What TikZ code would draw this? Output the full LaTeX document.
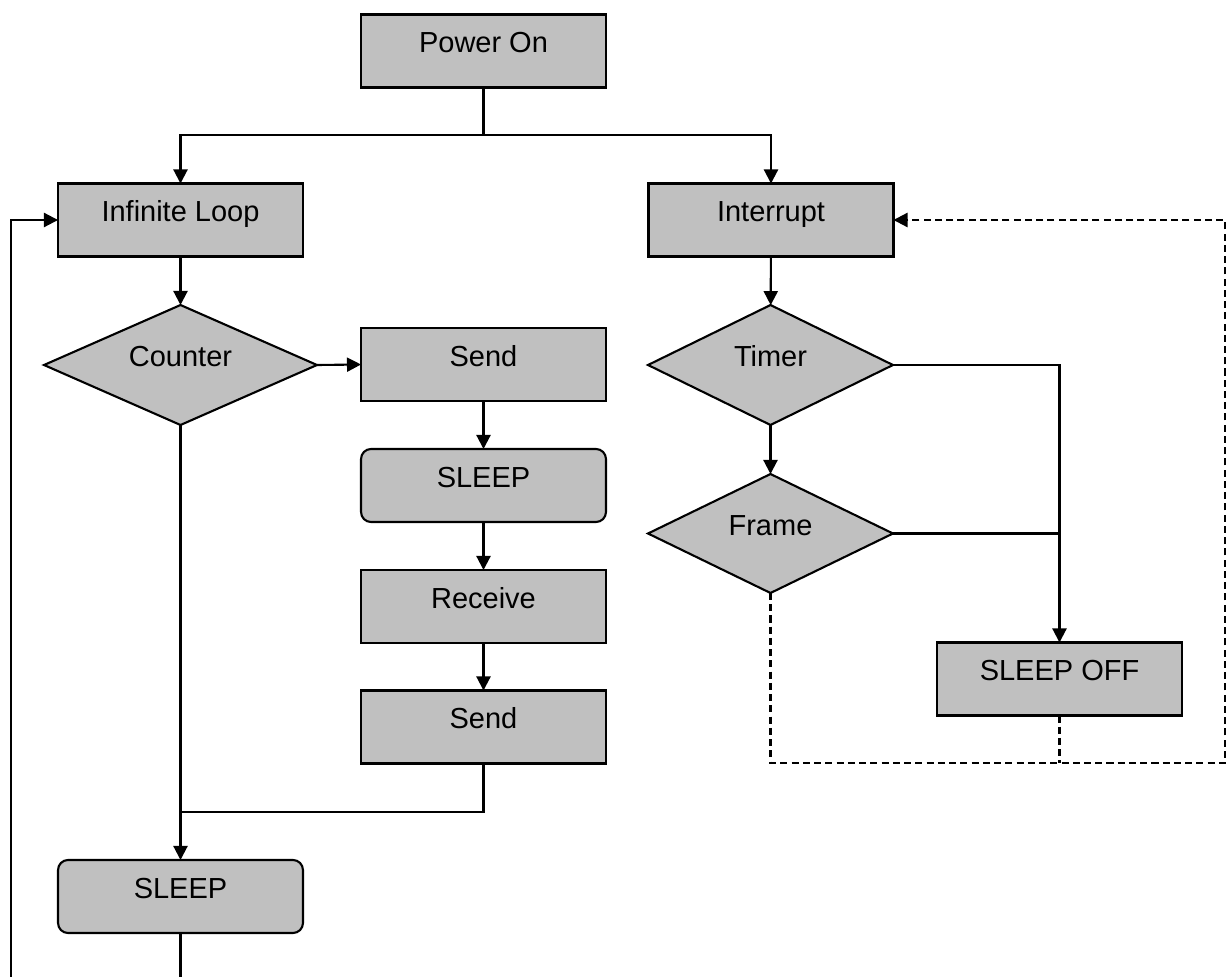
\documentclass[tikz,border=0pt]{standalone}
\usepackage{fontspec}
\setmainfont{Liberation Sans}
\usetikzlibrary{shapes.geometric,arrows.meta}
\definecolor{boxgray}{HTML}{C0C0C0}
\tikzset{
  lbl/.style={font=\fontsize{16.5}{19}\selectfont,text height=0.30cm,
    text depth=0.24cm,inner sep=0pt,outer sep=0pt},
  box/.style={lbl,draw=black,fill=boxgray,line width=1.2pt,minimum width=4.9cm,
    minimum height=1.46cm},
  rbox/.style={box,rounded corners=0.2cm},
  dec/.style={draw=black,fill=boxgray,line width=1.2pt,diamond,inner sep=0pt,
    outer sep=0pt,minimum height=2.4cm,label={[lbl]center:#1}},
  wire/.style={line width=1.2pt},
  arr/.style={wire,-{Triangle[length=8pt,width=8pt]}},
  dsh/.style={wire,dash pattern=on 4pt off 2.4pt}
}
\begin{document}
\begin{tikzpicture}[x=0.02cm,y=-0.02cm]
\clip (0,0) rectangle (1232,977);
\fill[white] (0,0) rectangle (1232,977);

% left column: main loop
\node[box]  (pwr)    at (483.5,51)    {Power On};
\node[box]  (inf)    at (180.5,220)   {Infinite Loop};
\node[dec=Counter,minimum width=5.46cm] (cnt) at (180.5,365) {};
\node[box]  (send1)  at (483.5,364.5) {Send};
\node[rbox] (sleep1) at (483.5,485.5) {SLEEP};
\node[box]  (recv)   at (483.5,606.5) {Receive};
\node[box]  (send2)  at (483.5,727)   {Send};
\node[rbox] (sleep2) at (180.5,896.5) {SLEEP};

% right column: interrupt handler
\node[box]  (intr)   at (771,220)     {Interrupt};
\node[dec=Timer,minimum width=4.9cm] (timer) at (770.5,365) {};
\node[dec=Frame,minimum width=4.9cm,minimum height=2.38cm] (frame) at (770.5,533.5) {};
\node[box]  (soff)   at (1059.5,679)  {SLEEP OFF};

% fork after power on
\coordinate (fork) at (483.5,135);
\draw[wire] (pwr.south) -- (fork);
\draw[arr] (fork) -| (inf.north);
\draw[arr] (fork) -| (intr.north);

% main loop
\draw[arr] (inf) -- (cnt);
\draw[arr] (cnt.east) -- (send1.west);
\draw[arr] (send1) -- (sleep1);
\draw[arr] (sleep1) -- (recv);
\draw[arr] (recv) -- (send2);
\draw[arr] (cnt.south) -- (sleep2.north);
\coordinate (join) at (180.5,812);
\draw[wire] (send2.south) |- (join);
\coordinate (loopbot) at (11,1000);
\draw[arr] (sleep2.south) |- (loopbot) |- (inf.west);

% interrupt branch
\draw[arr] (intr) -- (timer);
\draw[arr] (timer) -- (frame);
\draw[arr] (timer.east) -| (soff.north);
\draw[wire] (frame.east) -- (frame.east -| soff.north);

% return path
\coordinate (dcorner) at (1225,763);
\draw[dsh,-{Triangle[length=8pt,width=8pt]}] (frame.south) |- (dcorner) |- (intr.east);
\draw[dsh] (soff.south) -- (soff.south |- dcorner);
\end{tikzpicture}
\end{document}
